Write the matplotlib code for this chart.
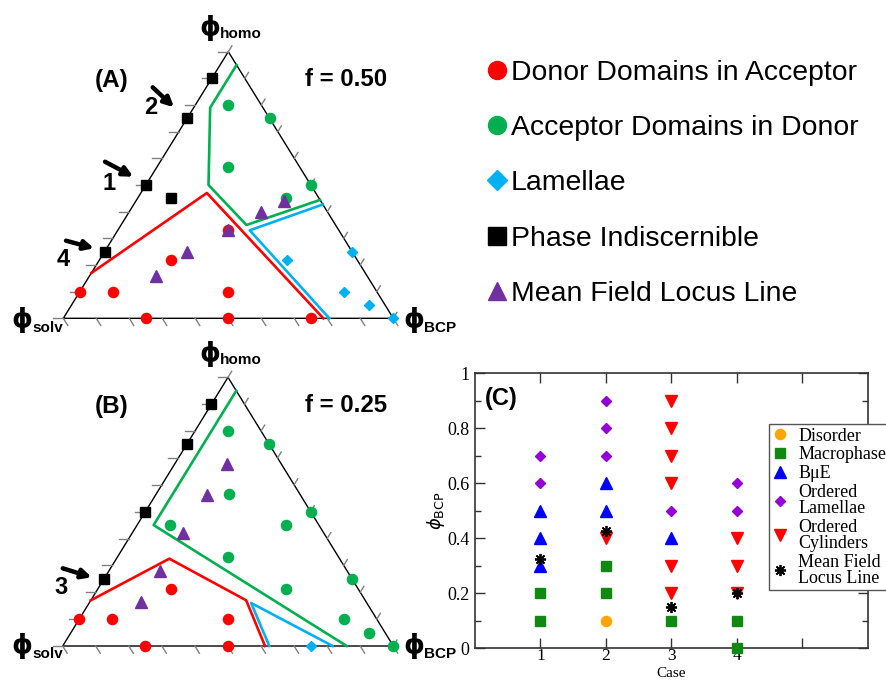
import matplotlib
matplotlib.use('Agg')
import matplotlib.pyplot as plt
from matplotlib.lines import Line2D

# ---------------- data ----------------
# Ternary compositions given as (phi_BCP, phi_homo); phi_solv = 1 - both
# Panel A (f = 0.50)
A_donor_bcp = [0.0, 0.1, 0.217, 0.333, 0.45, 0.25, 0.5, 0.75]
A_donor_homo = [0.1, 0.1, 0.217, 0.333, 0.1, 0.0, 0.0, 0.0]
A_acc_bcp = [0.1, 0.25, 0.217, 0.5, 0.45]
A_acc_homo = [0.8, 0.75, 0.567, 0.5, 0.45]
A_lam_bcp = [0.75, 0.57, 0.8, 0.9, 1.0]
A_lam_homo = [0.25, 0.217, 0.1, 0.05, 0.0]
A_ind_bcp = [0.0, 0.0, 0.0, 0.0, 0.1]
A_ind_homo = [0.9, 0.75, 0.5, 0.25, 0.45]
A_mf_bcp = [0.45, 0.4, 0.333, 0.25, 0.2]
A_mf_homo = [0.44, 0.4, 0.333, 0.25, 0.16]
A_gline_bcp = [0.05, 0.05, 0.19, 0.38, 0.556]
A_gline_homo = [0.95, 0.79, 0.50, 0.35, 0.444]
A_bline_bcp = [0.573, 0.40, 0.806]
A_bline_homo = [0.427, 0.33, 0.0]
A_rline_bcp = [0.0, 0.2, 0.788]
A_rline_homo = [0.17, 0.47, 0.0]

# Panel B (f = 0.25)
B_donor_bcp = [0.0, 0.1, 0.22, 0.45, 0.25, 0.5]
B_donor_homo = [0.1, 0.1, 0.213, 0.1, 0.0, 0.0]
B_acc_bcp = [0.1, 0.25, 0.22, 0.5, 0.1, 0.45, 0.333, 0.75, 0.57, 0.8, 0.9, 1.0]
B_acc_homo = [0.8, 0.75, 0.567, 0.5, 0.45, 0.45, 0.333, 0.25, 0.213, 0.1, 0.05, 0.0]
B_lam_bcp = [0.75]
B_lam_homo = [0.0]
B_ind_bcp = [0.0, 0.0, 0.0, 0.0]
B_ind_homo = [0.9, 0.75, 0.5, 0.25]
B_mf_bcp = [0.157, 0.156, 0.153, 0.155, 0.154]
B_mf_homo = [0.677, 0.563, 0.422, 0.278, 0.163]
B_gline_bcp = [0.05, 0.05, 0.859]
B_gline_homo = [0.95, 0.45, 0.0]
B_rline_bcp = [0.0, 0.16, 0.47, 0.612]
B_rline_homo = [0.17, 0.325, 0.17, 0.0]
B_bline_bcp = [0.625, 0.49, 0.8165]
B_bline_homo = [0.0, 0.16, 0.0]

ternary_labels = ["Donor Domains in Acceptor", "Acceptor Domains in Donor",
                  "Lamellae", "Phase Indiscernible", "Mean Field Locus Line"]

# Panel C
dis_case = [2]
dis_phi = [0.1]
mac_case = [1, 1, 2, 2, 3, 4, 4]
mac_phi = [0.1, 0.2, 0.2, 0.3, 0.1, 0.0, 0.1]
bue_case = [1, 1, 1, 2, 2, 3]
bue_phi = [0.3, 0.4, 0.5, 0.5, 0.6, 0.4]
lam_case = [1, 1, 2, 2, 2, 3, 4, 4]
lam_phi = [0.6, 0.7, 0.7, 0.8, 0.9, 0.5, 0.5, 0.6]
cyl_case = [2, 3, 3, 3, 3, 3, 3, 4, 4, 4]
cyl_phi = [0.4, 0.2, 0.3, 0.6, 0.7, 0.8, 0.9, 0.2, 0.3, 0.4]
mf_case = [1, 2, 3, 4]
mf_phi = [0.325, 0.425, 0.15, 0.2]
case_ticks = [1, 2, 3, 4, 5]
case_ticklabels = ["1", "2", "3", "4", ""]
c_labels = ["Disorder", "Macrophase", "B\u03bcE", "Ordered\nLamellae",
            "Ordered\nCylinders", "Mean Field\nLocus Line"]

# ---------------- styles ----------------
RED = "#FF0000"
GREEN = "#00B050"
LBLUE = "#00B0F0"
PURPLE = "#7030A0"

W, H = 886, 682
fig = plt.figure(figsize=(W / 100, H / 100), dpi=100)


def ax_px(l, t, r, b):
    return fig.add_axes([l / W, 1 - b / H, (r - l) / W, (b - t) / H])


def fxy(x, y):
    return (x / W, 1 - y / H)


def tern(bcp, homo):
    return [b + h / 2 for b, h in zip(bcp, homo)], list(homo)


def draw_ternary(ax, d):
    ax.set_xlim(0, 1)
    ax.set_ylim(0, 1)
    ax.axis('off')
    # frame
    ax.plot([0, 1, 0.5, 0], [0, 0, 1, 0], color='k', lw=1.0, clip_on=False, zorder=2)
    # ticks
    for i in range(11):
        v = i / 10
        ax.plot([v, v + 0.5 * 0.027], [0, -0.027], color='#808080', lw=1, clip_on=False)
        ax.plot([v / 2, v / 2 - 0.03], [v, v], color='#808080', lw=1, clip_on=False)
        ax.plot([1 - v / 2, 1 - v / 2 + 0.5 * 0.022], [v, v + 0.022], color='#808080',
                lw=1, clip_on=False)
    for key, col in (('g', GREEN), ('b', LBLUE), ('r', RED)):
        x, y = tern(*d[key])
        ax.plot(x, y, color=col, lw=1.9, clip_on=False, zorder=3)
    series = [('donor', 'o', RED, 7.3), ('acc', 'o', GREEN, 7.3),
              ('lam', 'D', LBLUE, 5.6), ('ind', 's', 'k', 7.8), ('mf', '^', PURPLE, 8.2)]
    for key, mk, col, ms in series:
        x, y = tern(*d[key])
        ax.plot(x, y, ls='none', marker=mk, color=col, ms=ms, mec=col,
                clip_on=False, zorder=4)


axA = ax_px(63.3, 51.7, 393.3, 318.3)
draw_ternary(axA, {'donor': (A_donor_bcp, A_donor_homo), 'acc': (A_acc_bcp, A_acc_homo),
                   'lam': (A_lam_bcp, A_lam_homo), 'ind': (A_ind_bcp, A_ind_homo),
                   'mf': (A_mf_bcp, A_mf_homo), 'g': (A_gline_bcp, A_gline_homo),
                   'b': (A_bline_bcp, A_bline_homo), 'r': (A_rline_bcp, A_rline_homo)})
axB = ax_px(62.7, 377.3, 393.3, 646.0)
draw_ternary(axB, {'donor': (B_donor_bcp, B_donor_homo), 'acc': (B_acc_bcp, B_acc_homo),
                   'lam': (B_lam_bcp, B_lam_homo), 'ind': (B_ind_bcp, B_ind_homo),
                   'mf': (B_mf_bcp, B_mf_homo), 'g': (B_gline_bcp, B_gline_homo),
                   'b': (B_bline_bcp, B_bline_homo), 'r': (B_rline_bcp, B_rline_homo)})

# ternary texts
BOLD = dict(family='Liberation Sans', weight='bold', color='k')
for dy, tag, ftxt in ((0, '(A)', 'f = 0.50'), (326, '(B)', 'f = 0.25')):
    fig.text(*fxy(112, 80 + dy), tag, ha='center', va='center', fontsize=17.5, **BOLD)
    fig.text(*fxy(346, 79 + dy), ftxt, ha='center', va='center', fontsize=17.3, **BOLD)


def phi_label(xphi, yphi, sub, ysub):
    fig.text(*fxy(xphi, yphi), '\u03d5', ha='center', va='center', fontsize=19,
             family='DejaVu Sans', weight='bold')
    fig.text(*fxy(xphi + 10, ysub), sub, ha='left', va='center', fontsize=11, **BOLD)


for dy in (0, 326):
    phi_label(210, 28 + dy, 'homo', 34 + dy)
    phi_label(22, 320 + dy, 'solv', 328 + dy)
    phi_label(414, 320 + dy, 'BCP', 328 + dy)

# case labels + arrows
for num, tx, ty, ax0, ay0, ax1, ay1 in (('2', 151, 107, 152.7, 87.3, 174, 107.3),
                                         ('1', 109, 183, 105, 161.7, 133.3, 176.7),
                                         ('4', 63, 260, 66, 240.7, 94, 248.3),
                                         ('3', 61, 587, 62.7, 568.3, 91.7, 577.3)):
    fig.text(*fxy(tx, ty), num, ha='center', va='center', fontsize=17, **BOLD)
    fig.add_artist(matplotlib.patches.FancyArrowPatch(
        fxy(ax0, ay0), fxy(ax1, ay1), transform=fig.transFigure,
        arrowstyle='-|>', mutation_scale=14, lw=3.2, color='k', shrinkA=0, shrinkB=0))

# ternary legend (top right)
handles = [Line2D([], [], ls='none', marker='o', color=RED, ms=13),
           Line2D([], [], ls='none', marker='o', color=GREEN, ms=13),
           Line2D([], [], ls='none', marker='D', color=LBLUE, ms=9.8),
           Line2D([], [], ls='none', marker='s', color='k', ms=12.5),
           Line2D([], [], ls='none', marker='^', color=PURPLE, ms=13)]
leg = fig.legend(handles, ternary_labels, loc='upper left',
                 bbox_to_anchor=fxy(489, 60), bbox_transform=fig.transFigure,
                 frameon=False, borderpad=0, borderaxespad=0, handlelength=0.58,
                 handletextpad=0.2, labelspacing=1.03,
                 prop=dict(family='Liberation Sans', size=20.4))

# ---------------- panel C ----------------
axC = ax_px(475, 373.3, 867.5, 648.3)
SER = 'Liberation Serif'
cser = [(dis_case, dis_phi, 'o', '#FFA500', 7.3),
        (mac_case, mac_phi, 's', '#118811', 7.0),
        (bue_case, bue_phi, '^', '#0000FF', 8.0),
        (lam_case, lam_phi, 'D', '#9400D3', 5.3),
        (cyl_case, cyl_phi, 'v', '#FF0000', 8.0)]
hC = []
for xs, ys, mk, col, ms in cser:
    ln, = axC.plot(xs, ys, ls='none', marker=mk, color=col, ms=ms, clip_on=False, zorder=3)
    hC.append(ln)
ln, = axC.plot(mf_case, mf_phi, ls='none', marker=(8, 2, 0), color='k', ms=8, mew=1.3,
               clip_on=False, zorder=4)
hC.append(ln)
axC.set_xlim(0, 6)
axC.set_ylim(0, 1)
axC.set_xticks(case_ticks)
axC.set_xticklabels(case_ticklabels)
axC.set_yticks([0, 0.2, 0.4, 0.6, 0.8, 1.0])
axC.set_yticklabels(['0', '0.2', '0.4', '0.6', '0.8', '1'])
axC.set_yticks([0.1, 0.3, 0.5, 0.7, 0.9], minor=True)
axC.tick_params(which='both', direction='in', top=True, right=True, color='#333333')
axC.tick_params(axis='y', pad=4, labelsize=13)
axC.tick_params(axis='x', pad=0, labelsize=12.5)
axC.tick_params(which='major', length=7, width=1)
axC.tick_params(which='minor', length=4, width=1)
for lab in axC.get_xticklabels() + axC.get_yticklabels():
    lab.set_family(SER)
for sp in axC.spines.values():
    sp.set_color('#333333')
    sp.set_linewidth(1.2)
axC.set_xlabel('Case', family=SER, fontsize=11)
axC.xaxis.set_label_coords(0.5, -0.067)
plt.rcParams['mathtext.fontset'] = 'stix'
axC.set_ylabel(r'$\phi_{\mathrm{BCP}}$', fontsize=13)
axC.yaxis.set_label_coords(-0.071, 0.5)
axC.text(0.068, 0.91, '(C)', transform=axC.transAxes, ha='center', va='center',
         fontsize=17, **BOLD)
legC = axC.legend(hC, c_labels, loc='upper left', bbox_to_anchor=fxy(769.3, 424),
                  bbox_transform=fig.transFigure, frameon=True, fancybox=False,
                  edgecolor='#555555', framealpha=1, borderpad=0.2, borderaxespad=0,
                  handlelength=0.8, handletextpad=0.6, labelspacing=0.1,
                  prop=dict(family=SER, size=13))
legC.get_frame().set_linewidth(1.0)
for t in legC.get_texts():
    t.set_linespacing(0.92)

fig.savefig('out.png', dpi=100)
